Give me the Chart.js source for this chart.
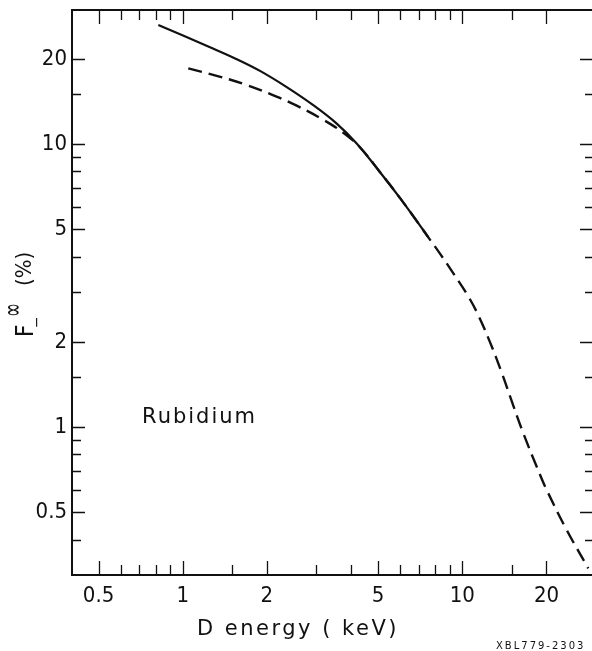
<!DOCTYPE html>
<html>
<head>
<meta charset="utf-8">
<script src="https://cdn.jsdelivr.net/npm/chart.js@4.4.1/dist/chart.umd.min.js"></script>
<style>
html,body{margin:0;padding:0;background:#fff;}
canvas{display:block;}
</style>
</head>
<body>
<canvas id="c" width="592" height="651"></canvas>
<script>
// ---- data ----
const solidEnergy = [0.818, 1.252, 1.56, 1.89, 2.355, 2.93, 3.555, 4.19, 5.08, 5.99, 7.06, 7.56];
const solidF      = [26.33, 21.98, 19.95, 18.13, 15.89, 13.72, 11.81, 10.05, 7.95, 6.44, 5.15, 4.68];
const dashEnergy  = [1.047, 1.323, 1.647, 2.052, 2.557, 3.184, 3.753, 4.31, 5.08, 5.99, 7.06, 7.56, 8.32, 9.29, 10.52, 11.41, 12.56, 13.84, 15.22, 16.53, 18.46, 20.04, 23.63, 28.2];
const dashF       = [18.51, 17.42, 16.32, 15.04, 13.66, 12.18, 10.96, 9.72, 7.95, 6.44, 5.15, 4.68, 4.10, 3.49, 2.887, 2.483, 1.995, 1.555, 1.189, 0.950, 0.724, 0.599, 0.4325, 0.3167];

const xTickValues = [0.5, 1, 2, 5, 10, 20];
const xTickLabels = ['0.5', '1', '2', '5', '10', '20'];
const xMinorValues = [0.6, 0.7, 0.8, 0.9, 1.5, 3, 4, 6, 7, 8, 9, 15];
const yTickValues = [0.5, 1, 2, 5, 10, 20];
const yTickLabels = ['0.5', '1', '2', '5', '10', '20'];
const yMinorValues = [0.4, 0.6, 0.7, 0.8, 0.9, 1.5, 3, 4, 6, 7, 8, 9, 15];

const xTitle = 'D energy ( keV)';
const sampleLabel = 'Rubidium';
const codeLabel = 'XBL779-2303';

const NARROW = '"Liberation Sans Narrow", "DejaVu Sans Condensed", "Liberation Sans", sans-serif';
const WIDE = '"DejaVu Sans", "Liberation Sans", sans-serif';

const toPts = (xs, ys) => xs.map((x, i) => ({x: x, y: ys[i]}));

const framePlugin = {
  id: 'frame',
  afterDraw(chart) {
    const ctx = chart.ctx;
    const a = chart.chartArea;
    const xs = chart.scales.x, ys = chart.scales.y;
    ctx.save();
    ctx.strokeStyle = '#111';
    ctx.lineCap = 'butt';
    // frame lines (left, bottom, top)
    ctx.lineWidth = 2;
    ctx.beginPath();
    ctx.moveTo(a.left, a.top); ctx.lineTo(a.right, a.top);
    ctx.moveTo(a.left, a.top - 1); ctx.lineTo(a.left, a.bottom + 1);
    ctx.moveTo(a.left, a.bottom); ctx.lineTo(a.right, a.bottom);
    ctx.stroke();
    // ticks
    ctx.lineWidth = 1.3;
    ctx.beginPath();
    const xAll = xTickValues.map(v => [v, true]).concat(xMinorValues.map(v => [v, false]));
    xAll.forEach(([v, major]) => {
      const px = Math.round(xs.getPixelForValue(v)) + 0.5;
      const L = major ? 14 : 10;
      ctx.moveTo(px, a.bottom); ctx.lineTo(px, a.bottom - L);
      ctx.moveTo(px, a.top); ctx.lineTo(px, a.top + L);
    });
    const yAll = yTickValues.map(v => [v, true]).concat(yMinorValues.map(v => [v, false]));
    yAll.forEach(([v, major]) => {
      const py = Math.round(ys.getPixelForValue(v)) + 0.5;
      ctx.moveTo(a.left, py); ctx.lineTo(a.left + (major ? 13 : 9), py);
      ctx.moveTo(a.right, py); ctx.lineTo(a.right - (major ? 12 : 7), py);
    });
    ctx.stroke();

    ctx.fillStyle = '#111';
    // x title
    ctx.font = '21px ' + WIDE;
    ctx.textAlign = 'left';
    ctx.textBaseline = 'alphabetic';
    ctx.letterSpacing = '2.5px';
    ctx.fillText(xTitle, 197, 635);
    // sample label
    ctx.letterSpacing = '2px';
    ctx.font = '21px ' + WIDE;
    ctx.fillText(sampleLabel, 142, 423);
    // code label
    ctx.letterSpacing = '2px';
    ctx.font = '10px ' + WIDE;
    ctx.fillText(codeLabel, 496, 649);
    ctx.letterSpacing = '0px';

    // y title: F with superscript infinity and subscript minus, then (%)
    ctx.save();
    ctx.translate(33, 337);
    ctx.rotate(-Math.PI / 2);
    ctx.font = '24px ' + NARROW;
    ctx.fillText('F', 0, 0);
    ctx.save();
    ctx.translate(20, -11);
    ctx.scale(1, 1.7);
    ctx.font = '17px ' + WIDE;
    ctx.fillText('\u221E', 0, 0);
    ctx.restore();
    ctx.font = '14px ' + WIDE;
    ctx.fillText('\u2212', 9, 8);
    ctx.font = '22px ' + NARROW;
    ctx.fillText('(%)', 51, -2);
    ctx.restore();

    ctx.restore();
  }
};

function noPad(s) { s.paddingTop = 0; s.paddingBottom = 0; s.paddingLeft = 0; s.paddingRight = 0; }

new Chart(document.getElementById('c'), {
  type: 'line',
  data: {
    datasets: [
      {
        label: 'solid',
        data: toPts(solidEnergy, solidF),
        borderColor: '#111',
        borderWidth: 2.2,
        pointRadius: 0,
        fill: false,
        tension: 0.4
      },
      {
        label: 'dashed',
        data: toPts(dashEnergy, dashF),
        borderColor: '#111',
        borderWidth: 2.4,
        borderDash: [14, 7],
        pointRadius: 0,
        fill: false,
        tension: 0.4
      }
    ]
  },
  options: {
    responsive: false,
    animation: false,
    devicePixelRatio: 1,
    layout: {padding: {top: 10, right: 0, left: 0, bottom: 0}},
    plugins: {legend: {display: false}, tooltip: {enabled: false}},
    scales: {
      x: {
        type: 'logarithmic',
        min: 0.4018,
        max: 29.1,
        grid: {display: false, drawTicks: false},
        border: {display: false},
        afterFit(s) { s.height = 76; noPad(s); },
        afterBuildTicks(s) { s.ticks = xTickValues.map(v => ({value: v})); },
        ticks: {
          autoSkip: false, maxRotation: 0, padding: 8, color: '#111',
          font: {family: NARROW, size: 22},
          callback: (v) => { const i = xTickValues.indexOf(v); return i >= 0 ? xTickLabels[i] : ''; }
        }
      },
      y: {
        type: 'logarithmic',
        min: 0.2999,
        max: 29.76,
        grid: {display: false, drawTicks: false},
        border: {display: false},
        afterFit(s) { s.width = 72; noPad(s); },
        afterBuildTicks(s) { s.ticks = yTickValues.map(v => ({value: v})); },
        ticks: {
          autoSkip: false, padding: 5, color: '#111',
          font: {family: NARROW, size: 22},
          callback: (v) => { const i = yTickValues.indexOf(v); return i >= 0 ? yTickLabels[i] : ''; }
        }
      }
    }
  },
  plugins: [framePlugin]
});
</script>
</body>
</html>
